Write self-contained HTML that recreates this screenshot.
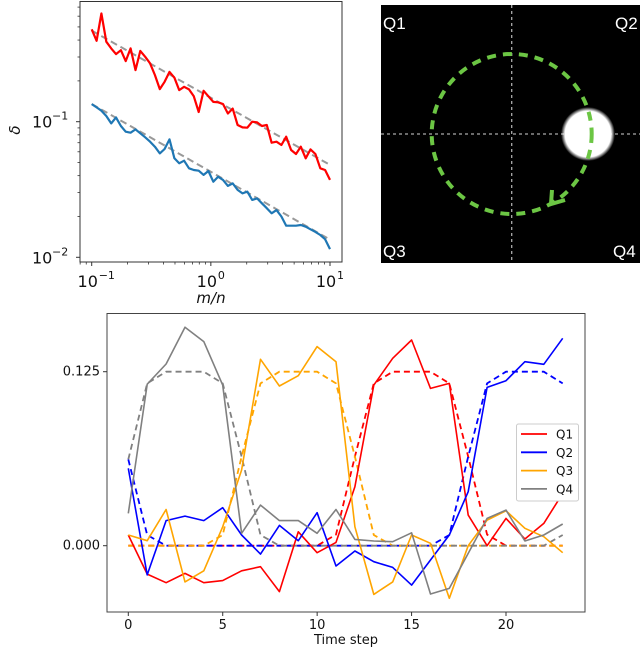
<!DOCTYPE html>
<html><head><meta charset="utf-8"><style>
html,body{margin:0;padding:0;background:#fff;}
svg{display:block;font-family:"DejaVu Sans","Liberation Sans",sans-serif;}
</style></head><body>
<svg width="640" height="665" viewBox="0 0 640 665">
<g id="tl"></g>
<g id="tr">
 <rect x="381" y="5" width="259" height="258" fill="#000"/>
 <line x1="511.7" y1="5" x2="511.7" y2="263" stroke="#aaa" stroke-width="1.3" stroke-dasharray="3,3"/>
 <line x1="381" y1="134" x2="640" y2="134" stroke="#aaa" stroke-width="1.3" stroke-dasharray="3,3"/>
 <defs><radialGradient id="bg"><stop offset="0.85" stop-color="#fff"/><stop offset="1" stop-color="#fff" stop-opacity="0"/></radialGradient></defs>
 <circle cx="588" cy="134" r="27" fill="url(#bg)"/>
 <circle cx="511.7" cy="134" r="80" fill="none" stroke="#6cc644" stroke-width="4" stroke-dasharray="9,7"/>
 <polyline points="552,190 551,204 565,200" fill="none" stroke="#6cc644" stroke-width="4"/>
 <text x="383" y="29" fill="#fff" font-size="17" font-family="Liberation Sans,sans-serif">Q1</text>
 <text x="615" y="29" fill="#fff" font-size="17" font-family="Liberation Sans,sans-serif">Q2</text>
 <text x="383" y="257" fill="#fff" font-size="17" font-family="Liberation Sans,sans-serif">Q3</text>
 <text x="613" y="257" fill="#fff" font-size="17" font-family="Liberation Sans,sans-serif">Q4</text>
</g>
<g id="bt"></g>
</svg>
<script>
// ---- top-left data ----
const redDelta=[0.480,0.395,0.628,0.389,0.347,0.315,0.337,0.280,0.347,0.240,0.333,0.301,0.269,0.221,0.174,0.197,0.233,0.211,0.171,0.181,0.173,0.154,0.118,0.169,0.154,0.140,0.139,0.135,0.115,0.125,0.0945,0.0908,0.0903,0.100,0.0989,0.0929,0.0945,0.0700,0.0712,0.0673,0.0775,0.0618,0.0578,0.0654,0.0537,0.0625,0.0578,0.0453,0.0440,0.0372];
const blueDelta=[0.1349,0.1275,0.1205,0.1101,0.0972,0.1076,0.0929,0.0844,0.0830,0.0878,0.0821,0.0767,0.0712,0.0654,0.0584,0.0629,0.0741,0.0537,0.0493,0.0516,0.0453,0.0440,0.0435,0.0405,0.0433,0.0361,0.0393,0.0372,0.0336,0.0351,0.0314,0.0296,0.0305,0.0265,0.0272,0.0250,0.0230,0.0211,0.0223,0.0200,0.0171,0.0171,0.0171,0.0173,0.0168,0.0161,0.0154,0.0146,0.0136,0.0115];
const redFit=[0.47,0.048];
const blueFit=[0.135,0.0135];
const fitX=[0.1,10];
const xTickLabels=["10","10","10"];
const xTickExp=["−1","0","1"];
const xTickVals=[0.1,1,10];
const yTickVals=[0.1,0.01];
const yTickExp=["−1","−2"];

// ---- bottom data ----
const steps=[0,1,2,3,4,5,6,7,8,9,10,11,12,13,14,15,16,17,18,19,20,21,22,23];
const q1=[0.0077,-0.0204,-0.0266,-0.0199,-0.0266,-0.0251,-0.018,-0.0151,-0.033,0.010,-0.005,0.0024,0.0424,0.1154,0.1346,0.1478,0.113,0.1166,0.022,0,0.0196,0.0048,0.016,0.0376];
const q1Ref=[0,0,0,0,0,0,0,0,0,0,0,0.008,0.064,0.1166,0.125,0.125,0.125,0.1166,0.064,0.008,0,0,0,0];
const q2=[0.0556,-0.021,0.018,0.0213,0.018,0.0273,0.0077,-0.006,0.0146,0.0036,0.0237,-0.0146,-0.0038,-0.0115,-0.0156,-0.0283,-0.0103,0.0077,0.0388,0.1137,0.1185,0.1322,0.1303,0.149];
const q2Ref=[0.062,0.0077,0,0,0,0,0,0,0,0,0,0,0,0,0,0,0,0.0077,0.064,0.1166,0.125,0.125,0.125,0.1166];
const q3=[0.0077,0.0036,0.026,-0.026,-0.018,0.0136,0.0544,0.1339,0.1147,0.1221,0.143,0.1322,0.0136,-0.035,-0.026,0.0077,0.0017,-0.0378,0,0.0184,0.0251,0.0125,0.0065,-0.005];
const q3Ref=[0,0,0,0,0,0.0077,0.064,0.1166,0.125,0.125,0.125,0.1166,0.064,0.0077,0,0,0,0,0,0,0,0,0,0];
const q4=[0.0232,0.116,0.1305,0.157,0.1466,0.1154,0.0089,0.0292,0.018,0.018,0.0089,0.026,0.0045,0.0034,0.0029,0.0093,-0.0347,-0.0307,-0.0055,0.0196,0.0256,0.0034,0.0077,0.0156];
const q4Ref=[0.062,0.1166,0.125,0.125,0.125,0.1166,0.064,0.0077,0,0,0,0,0,0,0,0,0,0,0,0,0,0,0,0.0077];
const seriesNames=["Q1","Q2","Q3","Q4"];
const bXTicks=[0,5,10,15,20];
const bYTicks=[0,0.125];
const bYTickLabels=["0.000","0.125"];

const NS="http://www.w3.org/2000/svg";
function mk(parent,tag,attrs){const e=document.createElementNS(NS,tag);for(const k in attrs)e.setAttribute(k,attrs[k]);parent.appendChild(e);return e;}

// ---- top-left chart ----
const tl=document.getElementById('tl');
const lx=v=>91.7+(Math.log10(v)+1)/2*(330-91.7);
const ly=v=>121.7-(Math.log10(v)+1)*135.6;
const mnRatio=redDelta.map((_,i)=>Math.pow(10,-1+2*i/(redDelta.length-1)));
function poly(parent,xs,ys,fx,fy,stroke,w,dash,name){
  const pts=xs.map((x,i)=>fx(x).toFixed(1)+','+fy(ys[i]).toFixed(1)).join(' ');
  const p=mk(parent,'polyline',{points:pts,fill:'none',stroke:stroke,'stroke-width':w,'stroke-linejoin':'round'});
  if(dash)p.setAttribute('stroke-dasharray',dash);
  
  
  return p;
}
poly(tl,fitX,redFit,lx,ly,'#999',2,'7,4','red-fit-line');
poly(tl,fitX,blueFit,lx,ly,'#999',2,'7,4','blue-fit-line');
poly(tl,mnRatio,redDelta,lx,ly,'#ff0000',2.2,null,'red-error-line');
poly(tl,mnRatio,blueDelta,lx,ly,'#1f77b4',2.2,null,'blue-error-line');
const frame=mk(tl,'rect',{x:80,y:1.5,width:262,height:260.5,fill:'none',stroke:'#333','stroke-width':1});


for(let d=-2;d<=0;d++)for(let m=2;m<=9;m++){const v=m*Math.pow(10,d);const y=ly(v);if(y<2||y>262)continue;
 const t=mk(tl,'line',{x1:77.5,x2:80,y1:y,y2:y,stroke:'#333','stroke-width':0.8});
 }
for(let d=-2;d<=1;d++)for(let m=2;m<=9;m++){const v=m*Math.pow(10,d);const x=lx(v);if(x<80||x>342)continue;
 const t=mk(tl,'line',{x1:x,x2:x,y1:262,y2:264.5,stroke:'#333','stroke-width':0.8});
 }
xTickVals.forEach((v,i)=>{const x=lx(v);
 const t=mk(tl,'line',{x1:x,x2:x,y1:262,y2:266,stroke:'#333','stroke-width':1});
 
 const tx=mk(tl,'text',{x:x-4,y:287,'font-size':16,'text-anchor':'middle',fill:'#111'});
 tx.textContent=xTickLabels[i];
 
 const ex=mk(tl,'text',{x:x+7,y:279,'font-size':11,'text-anchor':'start',fill:'#111'});
 ex.textContent=xTickExp[i];
 
});
yTickVals.forEach((v,i)=>{const y=ly(v);
 const t=mk(tl,'line',{x1:76,x2:80,y1:y,y2:y,stroke:'#333','stroke-width':1});
 
 const tx=mk(tl,'text',{x:32,y:y+6,'font-size':16,fill:'#111'});
 tx.textContent='10';
 
 const ex=mk(tl,'text',{x:52,y:y-2,'font-size':11,fill:'#111'});
 ex.textContent=yTickExp[i];
 
});
{const t=mk(tl,'text',{x:211,y:303,'font-size':15,'font-style':'italic','text-anchor':'middle',fill:'#111'});t.textContent='m/n';

const y=mk(tl,'text',{x:0,y:0,'font-size':15,'font-style':'italic','text-anchor':'middle',fill:'#111',transform:'translate(20,130) rotate(-90)'});y.textContent='δ';
}

// ---- bottom chart ----
const bt=document.getElementById('bt');
const bx=s=>128.3+s*(506-128.3)/20;
const by=v=>545.7-v*(545.7-371.7)/0.125;
const colors=['#ff0000','#0000ff','#ffa500','#808080'];
const solids=[q1,q2,q3,q4], refs=[q1Ref,q2Ref,q3Ref,q4Ref];
refs.forEach((r,i)=>poly(bt,steps,r,bx,by,colors[i],1.8,'6,4',seriesNames[i].toLowerCase()+'-reference-line'));
solids.forEach((r,i)=>poly(bt,steps,r,bx,by,colors[i],1.6,null,seriesNames[i].toLowerCase()+'-estimate-line'));
{const f=mk(bt,'rect',{x:107,y:313.5,width:478,height:298.5,fill:'none',stroke:'#444','stroke-width':1});
}
bXTicks.forEach(s=>{const x=bx(s);
 const t=mk(bt,'line',{x1:x,x2:x,y1:612,y2:616,stroke:'#333'});
 
 const tx=mk(bt,'text',{x:x,y:629,'font-size':13,'text-anchor':'middle',fill:'#111'});tx.textContent=String(s);
 });
bYTicks.forEach((v,i)=>{const y=by(v);
 const t=mk(bt,'line',{x1:103,x2:107,y1:y,y2:y,stroke:'#333'});
 
 const tx=mk(bt,'text',{x:100,y:y+4,'font-size':13,'text-anchor':'end',fill:'#111'});tx.textContent=bYTickLabels[i];
 });
{const t=mk(bt,'text',{x:346,y:644,'font-size':13,'text-anchor':'middle',fill:'#111'});t.textContent='Time step';
}
const lg=mk(bt,'g',{});


{const r=mk(lg,'rect',{x:516.5,y:424,width:62,height:77,fill:'#fff',stroke:'#ccc',rx:2});
}
seriesNames.forEach((n,i)=>{const y=434+i*18.3;
 const l=mk(lg,'line',{x1:521,x2:547,y1:y,y2:y,stroke:colors[i],'stroke-width':1.8});
 
 const t=mk(lg,'text',{x:556,y:y+4.5,'font-size':12,fill:'#111'});t.textContent=n;
 });
</script>
</body></html>
